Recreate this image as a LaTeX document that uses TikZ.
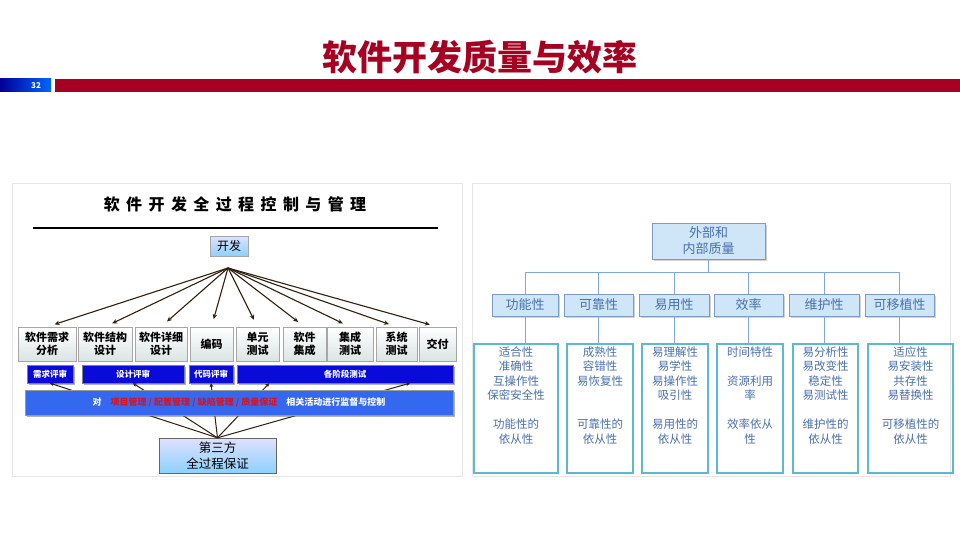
\documentclass[tikz,border=0pt]{standalone}
\usepackage{fontspec}
\setmainfont{Noto Sans CJK SC}
\newfontfamily\spacedfont[LetterSpace=40]{Noto Sans CJK SC}
\usetikzlibrary{arrows.meta,shadows,positioning,calc}
\definecolor{darkred}{HTML}{A50021}
\definecolor{revblue}{HTML}{0A0ADB}
\definecolor{barblue}{HTML}{3568F0}
\definecolor{mgtred}{HTML}{D8141E}
\definecolor{qtext}{HTML}{4A6FAE}
\definecolor{qline}{HTML}{7DA7E0}
\definecolor{qframe}{HTML}{5CB9D2}
\definecolor{qfill}{HTML}{CFE6F8}
\tikzset{
  frame/.style = {draw=gray!20, fill=white},
  devbox/.style = {draw=gray!70, top color=blue!12, bottom color=blue!40!cyan!45, inner sep=0pt, align=center},
  stagebox/.style = {draw=gray!70, top color=white, bottom color=cyan!15!gray!25, minimum height=34pt, inner sep=0pt, align=center, font=\fontsize{11}{13}\selectfont\bfseries},
  revbar/.style = {fill=revblue, draw=black!50, minimum height=18pt, inner sep=0pt, text=white, font=\fontsize{8.5}{10}\selectfont\bfseries, drop shadow={shadow xshift=1.5pt, shadow yshift=-1.5pt, fill=black!60}},
  devarrow/.style = {draw=black!75!brown, line width=1.1pt, -{Stealth[length=5pt,width=4.5pt]}, shorten >=8pt},
  fanline/.style = {draw=black!75!brown, line width=1pt, -{Stealth[length=4pt,width=4pt]}},
  qbox/.style = {draw=qline!70!gray, fill=qfill, inner sep=0pt, align=center, text=qtext, drop shadow={shadow xshift=1.5pt, shadow yshift=-1.5pt, fill=gray!70}},
  qconn/.style = {draw=qline, line width=0.8pt},
  detbox/.style = {draw=qframe, line width=1.4pt, minimum height=129pt, inner sep=0pt},
  dettext/.style = {align=center, text=qtext, inner sep=1pt, font=\fontsize{11.5}{14.5}\selectfont},
}
\begin{document}
\begin{tikzpicture}[x=1pt, y=-1pt]
  \useasboundingbox[fill=white] (0,0) rectangle (960,540);

  % heading and page strip
  \node[text=darkred, font=\fontsize{35}{40}\selectfont\bfseries] (title) at (480,57) {软件开发质量与效率};
  \shade[left color=blue!60!black, right color=blue!60!cyan] (0,79) rectangle (51,92);
  \node[text=white, font=\fontsize{8}{9}\selectfont\bfseries] (pageno) at (36,85.5) {32};
  \fill[darkred] (55,79) rectangle (960,92);

  % left: development process
  \draw[frame] (12,183) rectangle (462,476);
  \node[font=\spacedfont\fontsize{16}{18}\selectfont\bfseries] (ltitle) at (235,204) {软件开发全过程控制与管理};
  \draw[line width=2pt] (33,228) -- (438,228);
  \node[devbox, minimum width=38pt, minimum height=20pt, font=\fontsize{12}{14}\selectfont] (dev) at (229,246) {开发};
  \coordinate (hub) at (228,268);
  \foreach \xa/\xb/\txt [count=\i] in {18/76/{软件需求\\分析}, 78/132/{软件结构\\设计}, 135/187/{软件详细\\设计},
      190/233/{编码}, 236/279/{单元\\测试}, 283/326/{软件\\集成}, 327/373/{集成\\测试}, 376/417/{系统\\测试}, 419/456/{交付}}
    \node[stagebox, minimum width={(\xb-\xa)*1pt}] (s\i) at ({(\xa+\xb)/2},344) {\txt};
  \foreach \i in {1,...,9}
    \draw[devarrow] (hub) -- (s\i.north);

  \foreach \xa/\xb/\txt [count=\i] in {27/73/需求评审, 82/184/设计评审, 189/233/代码评审, 237/453/各阶段测试}
    \node[revbar, minimum width={(\xb-\xa)*1pt}] (r\i) at ({(\xa+\xb)/2},374) {\txt};

  \node[devbox, minimum width=117pt, minimum height=35pt, font=\fontsize{12.5}{16}\selectfont, draw=gray!80!black] (tp) at (217.5,455.5) {第三方\\全过程保证};
  \draw[fanline] (tp.north) -- (r1.south);
  \draw[fanline] (tp.north) -- (r2.south);
  \draw[fanline] (tp.north) -- (r3.south);
  \draw[fanline] (tp.north) -- ($(r4.south west)!0.15!(r4.south east)$);
  \draw[fanline] (tp.north) -- ($(r4.south west)!0.8!(r4.south east)$);

  \node[fill=barblue, draw=black!40, minimum width=428pt, minimum height=25pt, inner sep=0pt, text=white,
        font=\fontsize{9}{11}\selectfont\bfseries, drop shadow={shadow xshift=2pt, shadow yshift=-2pt, fill=black!60}] (ctrl) at (239,402.5)
    {对\quad\textcolor{mgtred}{项目管理 / 配置管理 / 缺陷管理 / 质量保证}\quad 相关活动进行监督与控制};

  % right: quality model
  \draw[frame] (472,183) rectangle (950,476);
  \node[qbox, minimum width=113pt, minimum height=36pt, font=\fontsize{13}{16}\selectfont] (top) at (708.5,241) {外部和\\内部质量};
  \foreach \xa/\xb/\txt [count=\i] in {492/558/功能性, 564/633/可靠性, 639/709/易用性, 714/783/效率, 789/859/维护性, 865/934/可移植性}
  {
    \node[qbox, minimum width={(\xb-\xa)*1pt}, minimum height=22pt, font=\fontsize{13}{15}\selectfont] (c\i) at ({(\xa+\xb)/2},305) {\txt};
    \draw[qconn] (top.south) -- ++(0,13) -| (c\i.north);
  }
  \foreach \xa/\xb/\txt [count=\i] in {474/558/{适合性\\准确性\\互操作性\\保密安全性\\[14.5pt]功能性的\\依从性},
      567/633/{成熟性\\容错性\\易恢复性\\[29pt]可靠性的\\依从性},
      642/708/{易理解性\\易学性\\易操作性\\吸引性\\[14.5pt]易用性的\\依从性},
      717/783/{时间特性\\[14.5pt]资源利用\\率\\[14.5pt]效率依从\\性},
      793/858/{易分析性\\易改变性\\稳定性\\易测试性\\[14.5pt]维护性的\\依从性},
      868/953/{适应性\\易安装性\\共存性\\易替换性\\[14.5pt]可移植性的\\依从性}}
  {
    \node[detbox, minimum width={(\xb-\xa)*1pt}] (d\i) at ({(\xa+\xb)/2},408.5) {};
    \node[dettext, below=2pt of d\i.north] (t\i) {\txt};
    \draw[qconn] (c\i.south) -- (c\i.south |- d\i.north);
  }
\end{tikzpicture}
\end{document}
